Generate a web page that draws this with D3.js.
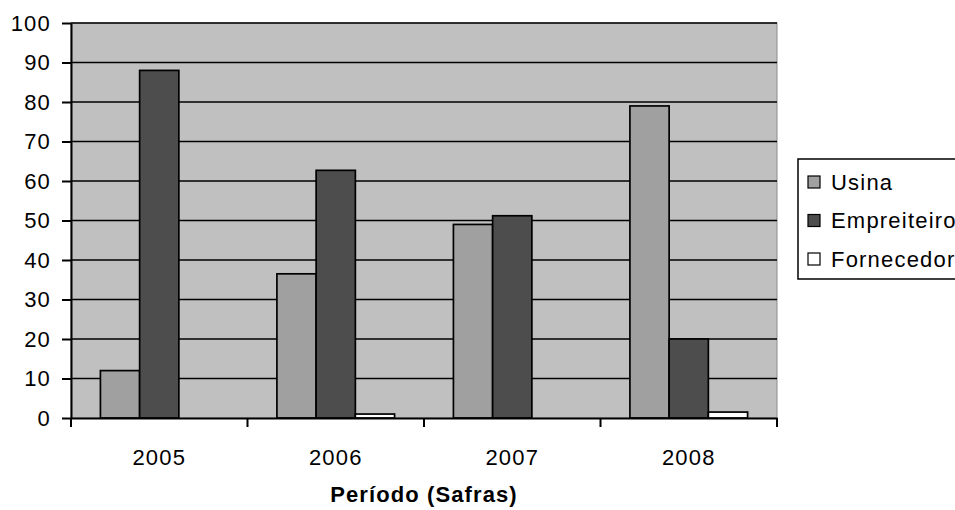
<!DOCTYPE html>
<html>
<head>
<meta charset="utf-8">
<script src="https://cdn.jsdelivr.net/npm/d3@7"></script>
<style>
  body { margin: 0; background: #fff; }
  text { font-family: "Liberation Sans", Arial, sans-serif; fill: #000; }
</style>
</head>
<body>
<div id="chart"></div>
<script>
// data
var years = ["2005", "2006", "2007", "2008"];
var seriesNames = ["Usina", "Empreiteiro", "Fornecedor"];
var usina = [12, 36.5, 49, 79];
var empreiteiro = [88, 62.7, 51.2, 20];
var fornecedor = [0, 1, 0, 1.5];
var yTicks = [0, 10, 20, 30, 40, 50, 60, 70, 80, 90, 100];

var colors = ["#a0a0a0", "#4d4d4d", "#ffffff"];
var values = [usina, empreiteiro, fornecedor];

var W = 955, H = 510;
var margin = {top: 23, left: 71},
    width = 706,
    height = 395;

var svg = d3.select("#chart").append("svg")
    .attr("width", W)
    .attr("height", H);

var g = svg.append("g")
    .attr("transform", "translate(" + margin.left + "," + margin.top + ")");

var x = d3.scaleBand().domain(years).range([0, width]);
// 3 bars + 150% gap -> 4.5 bar widths per band
var barW = x.bandwidth() / 4.5;
var xs = d3.scaleBand().domain(seriesNames)
    .range([barW * 0.75, barW * 3.75]);

var y = d3.scaleLinear().domain([0, 100]).range([height, 0]);

// plot background
g.append("rect")
    .attr("width", width)
    .attr("height", height)
    .attr("fill", "#c0c0c0")
    .attr("stroke", "#8c8c8c")
    .attr("stroke-width", 1);

// gridlines
g.selectAll(".grid")
  .data(yTicks.filter(function(d) { return d > 0; }))
  .enter().append("line")
    .attr("x1", 0)
    .attr("x2", width)
    .attr("y1", function(d) { return y(d); })
    .attr("y2", function(d) { return y(d); })
    .attr("stroke", "#000")
    .attr("stroke-width", 1.7);

// bars
var rows = [];
years.forEach(function(yr, i) {
  seriesNames.forEach(function(s, j) {
    rows.push({year: yr, series: s, value: values[j][i], color: colors[j]});
  });
});

g.selectAll(".bar")
  .data(rows.filter(function(d) { return d.value > 0; }))
  .enter().append("rect")
    .attr("x", function(d) { return x(d.year) + xs(d.series); })
    .attr("y", function(d) { return y(d.value); })
    .attr("width", xs.bandwidth())
    .attr("height", function(d) { return height - y(d.value); })
    .attr("fill", function(d) { return d.color; })
    .attr("stroke", "#000")
    .attr("stroke-width", 1.7);

// y axis
var yAxis = g.append("g")
    .call(d3.axisLeft(y).tickValues(yTicks).tickSize(9).tickPadding(11).tickSizeOuter(0));
yAxis.select(".domain").attr("stroke", "#000").attr("stroke-width", 2);
yAxis.selectAll(".tick line").attr("stroke", "#000").attr("stroke-width", 2);
yAxis.selectAll("text")
    .style("font-size", "22px")
    .style("letter-spacing", "1.2px")
    .attr("fill", "#000");

// x axis
var xAxis = g.append("g")
    .attr("transform", "translate(0," + height + ")")
    .call(d3.axisBottom(x).tickSize(0).tickPadding(31).tickSizeOuter(0));
xAxis.select(".domain").attr("stroke", "#000").attr("stroke-width", 2);
xAxis.selectAll("text")
    .style("font-size", "22px")
    .style("letter-spacing", "1.2px")
    .attr("fill", "#000");

// tick marks between categories
g.selectAll(".xtick")
  .data(years.concat(["end"]))
  .enter().append("line")
    .attr("x1", function(d, i) { return i * x.step(); })
    .attr("x2", function(d, i) { return i * x.step(); })
    .attr("y1", height)
    .attr("y2", height + 9)
    .attr("stroke", "#000")
    .attr("stroke-width", 2);

// x title
svg.append("text")
    .attr("x", 424)
    .attr("y", 502)
    .attr("text-anchor", "middle")
    .style("font-size", "22px")
    .style("letter-spacing", "1.1px")
    .style("font-weight", "bold")
    .text("Período (Safras)");

// legend (runs off the right edge, as in the original)
var legend = svg.append("g").attr("transform", "translate(798,159)");
legend.append("rect")
    .attr("width", 170)
    .attr("height", 120)
    .attr("fill", "#fff")
    .attr("stroke", "#000")
    .attr("stroke-width", 1.5);

var item = legend.selectAll(".item")
  .data(seriesNames)
  .enter().append("g")
    .attr("transform", function(d, i) { return "translate(10," + (23 + i * 38.5) + ")"; });

item.append("rect")
    .attr("x", 0)
    .attr("y", -6)
    .attr("width", 12)
    .attr("height", 12)
    .attr("fill", function(d, i) { return colors[i]; })
    .attr("stroke", "#000")
    .attr("stroke-width", 1.2);

item.append("text")
    .attr("x", 23)
    .attr("y", 0)
    .attr("dy", "0.35em")
    .style("font-size", "22px")
    .style("letter-spacing", "1.2px")
    .text(function(d) { return d; });
</script>
</body>
</html>
